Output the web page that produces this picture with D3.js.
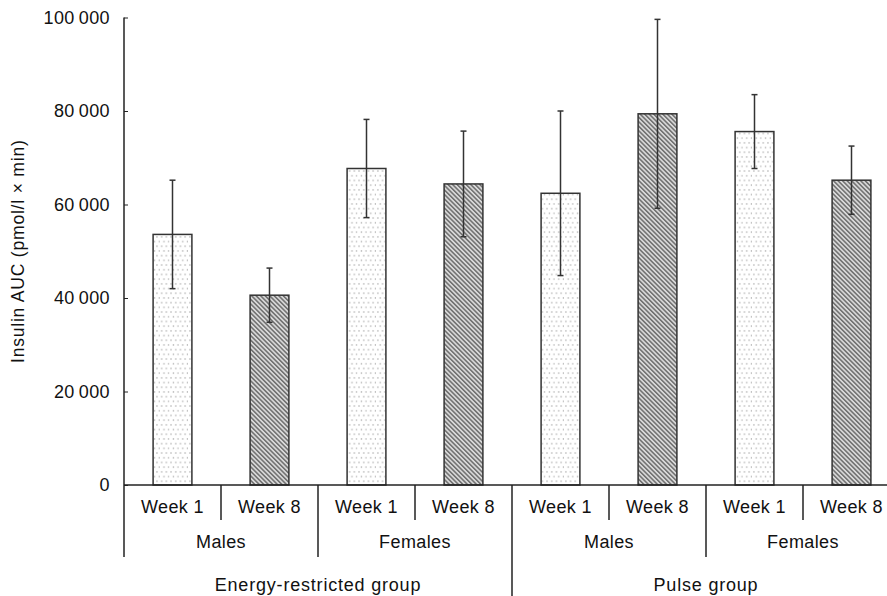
<!DOCTYPE html>
<html>
<head>
<meta charset="utf-8">
<script src="https://cdn.jsdelivr.net/npm/d3@7"></script>
<style>
  body { margin: 0; background: #fff; }
  text { font-family: "Liberation Sans", Arial, sans-serif; fill: #111; }
</style>
</head>
<body>
<div id="chart"></div>
<script>
// values
var weeks = ['Week 1', 'Week 8', 'Week 1', 'Week 8', 'Week 1', 'Week 8', 'Week 1', 'Week 8'];
var sexes = ['Males', 'Females', 'Males', 'Females'];
var groups = ['Energy-restricted group', 'Pulse group'];
var means = [53600, 40600, 67700, 64400, 62400, 79400, 75600, 65200];
var errs = [11600, 5800, 10500, 11300, 17600, 20200, 7900, 7300];
var yTicks = [0, 20000, 40000, 60000, 80000, 100000];

var
  w = 887,
  h = 596,
  x0 = 124,
  yTop = 17.5,
  base = 485,
  step = 97;

var x = d3.scaleBand().domain(d3.range(weeks.length)).range([x0, x0 + step * weeks.length]).padding(0);
var y = d3.scaleLinear().domain([0, 100000]).range([base, yTop]);
var barW = x.bandwidth() * 0.4;

var svg = d3.select('#chart').append('svg')
  .attr('width', w)
  .attr('height', h);

var defs = svg.append('defs');

// dotted fill for week 1
var dots = defs.append('pattern')
  .attr('id', 'dots')
  .attr('patternUnits', 'userSpaceOnUse')
  .attr('width', 9.4).attr('height', 9.4);
dots.append('rect').attr('width', 9.4).attr('height', 9.4).attr('fill', '#fff');
[[1.2, 1.2], [5.9, 1.2], [3.55, 5.9], [8.25, 5.9]].forEach(function(p) {
  dots.append('rect').attr('x', p[0]).attr('y', p[1]).attr('width', 1.3).attr('height', 1.3).attr('fill', '#aaa');
});

// hatched fill for week 8
var hatch = defs.append('pattern')
  .attr('id', 'hatch')
  .attr('patternUnits', 'userSpaceOnUse')
  .attr('width', 3.2).attr('height', 10)
  .attr('patternTransform', 'rotate(-45)');
hatch.append('rect').attr('width', 3.2).attr('height', 10).attr('fill', '#d8d8d8');
hatch.append('rect').attr('width', 1.5).attr('height', 10).attr('fill', '#6e6e6e');

// bars
svg.append('g').selectAll('rect')
  .data(means)
  .enter().append('rect')
    .attr('x', function(d, i) { return x(i) + (x.bandwidth() - barW) / 2; })
    .attr('y', function(d) { return y(d); })
    .attr('width', barW)
    .attr('height', function(d) { return base - y(d); })
    .attr('fill', function(d, i) { return i % 2 ? 'url(#hatch)' : 'url(#dots)'; })
    .attr('stroke', '#333')
    .attr('stroke-width', 1.5);

// error bars
var eb = svg.append('g').attr('stroke', '#333').attr('stroke-width', 1.5);
means.forEach(function(m, i) {
  var cx = x(i) + x.bandwidth() / 2;
  eb.append('line').attr('x1', cx).attr('x2', cx).attr('y1', y(m - errs[i])).attr('y2', y(m + errs[i]));
  eb.append('line').attr('x1', cx - 3).attr('x2', cx + 3).attr('y1', y(m - errs[i])).attr('y2', y(m - errs[i]));
  eb.append('line').attr('x1', cx - 3).attr('x2', cx + 3).attr('y1', y(m + errs[i])).attr('y2', y(m + errs[i]));
});

// y axis
var fmt = function(d) { return d3.format(',')(d).replace(/,/g, '\u2009'); };
var yAxis = d3.axisRight(y).tickValues(yTicks).tickSize(4).tickFormat(fmt);
var yg = svg.append('g').attr('transform', 'translate(' + x0 + ',0)').call(yAxis);
yg.select('.domain').attr('stroke', '#222').attr('stroke-width', 1.5).attr('d', 'M0,' + yTop + 'V' + base);
yg.selectAll('.tick line').attr('stroke', '#222');
yg.selectAll('.tick text')
  .attr('x', -14)
  .attr('text-anchor', 'end')
  .attr('fill', '#111')
  .style('font-size', '18px')
  .style('letter-spacing', '0.4px');

svg.append('text')
  .attr('transform', 'translate(24,' + ((yTop + base) / 2) + ') rotate(-90)')
  .attr('text-anchor', 'middle')
  .style('font-size', '17.5px')
  .style('letter-spacing', '0.8px')
  .text('Insulin AUC (pmol/l \u00d7 min)');

// x axis with three levels
var xg = svg.append('g').attr('stroke', '#222').attr('stroke-width', 1.5);
xg.append('line').attr('x1', x0).attr('x2', w).attr('y1', base).attr('y2', base);

var ends = [520, 557, 596];
d3.range(weeks.length + 1).forEach(function(i) {
  var px = x0 + step * i;
  var lvl = i % 4 === 0 && i > 0 ? 2 : (i % 2 === 0 ? 1 : 0);
  xg.append('line').attr('x1', px).attr('x2', px).attr('y1', base).attr('y2', ends[lvl]);
});

svg.append('g').selectAll('text')
  .data(weeks)
  .enter().append('text')
    .attr('x', function(d, i) { return x(i) + x.bandwidth() / 2; })
    .attr('y', 513)
    .attr('text-anchor', 'middle')
    .style('font-size', '18px')
    .style('letter-spacing', '0.4px')
    .text(function(d) { return d; });

svg.append('g').selectAll('text')
  .data(sexes)
  .enter().append('text')
    .attr('x', function(d, i) { return x0 + step * (2 * i + 1); })
    .attr('y', 548)
    .attr('text-anchor', 'middle')
    .style('font-size', '18px')
    .style('letter-spacing', '0.4px')
    .text(function(d) { return d; });

svg.append('g').selectAll('text')
  .data(groups)
  .enter().append('text')
    .attr('x', function(d, i) { return x0 + step * (4 * i + 2); })
    .attr('y', 591)
    .attr('text-anchor', 'middle')
    .style('font-size', '18px')
    .style('letter-spacing', '0.8px')
    .text(function(d) { return d; });
</script>
</body>
</html>
